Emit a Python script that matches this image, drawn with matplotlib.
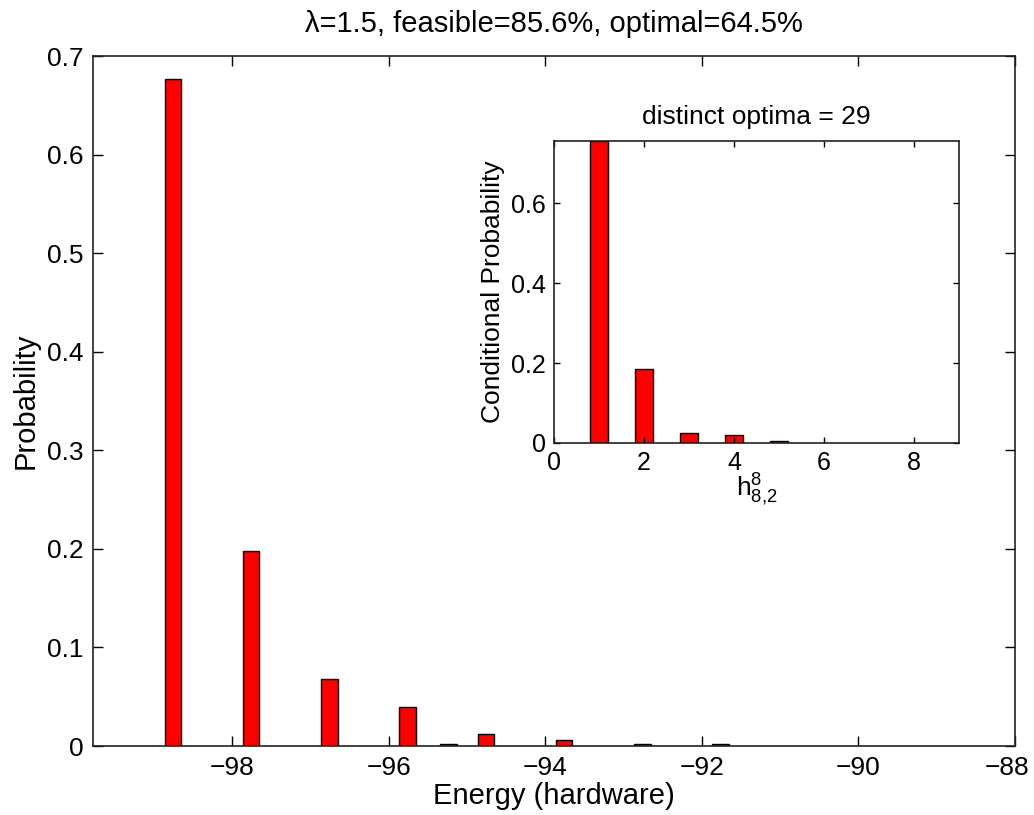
import matplotlib
matplotlib.use("Agg")
import matplotlib.pyplot as plt
from matplotlib.transforms import ScaledTranslation

plt.rcParams['font.family'] = ['Liberation Sans', 'DejaVu Sans']
plt.rcParams['mathtext.fontset'] = 'custom'
plt.rcParams['mathtext.rm'] = 'Liberation Sans'
plt.rcParams['mathtext.it'] = 'Liberation Sans'

# Main histogram data
energy = [-98.76, -97.76, -96.76, -95.76, -95.24, -94.76, -93.76, -92.76, -91.76]
prob = [0.677, 0.198, 0.068, 0.040, 0.002, 0.012, 0.006, 0.002, 0.002]
main_xticks = [-98, -96, -94, -92, -90, -88]
main_yticks = [0, 0.1, 0.2, 0.3, 0.4, 0.5, 0.6, 0.7]
main_yticklabels = ['0', '0.1', '0.2', '0.3', '0.4', '0.5', '0.6', '0.7']

# Inset data
h_vals = [1, 2, 3, 4, 5]
cond_prob = [0.756, 0.186, 0.024, 0.020, 0.004]
inset_xticks = [0, 2, 4, 6, 8]
inset_yticks = [0, 0.2, 0.4, 0.6]
inset_yticklabels = ['0', '0.2', '0.4', '0.6']

title = 'λ=1.5, feasible=85.6%, optimal=64.5%'
inset_title = 'distinct optima = 29'

fig = plt.figure(figsize=(10.34, 8.15), dpi=100)

ax = fig.add_axes([93/1034, 1-746/815, (1015-93)/1034, (746-56)/815])
ax.bar(energy, prob, width=0.21, color='#ff0000', edgecolor='black', linewidth=1.0)
ax.set_xlim(-99.78, -88)
ax.set_ylim(0, 0.7)
ax.set_xticks(main_xticks)
ax.set_xticklabels(['\u2212%d' % abs(t) for t in main_xticks])
ax.set_yticks(main_yticks)
ax.set_yticklabels(main_yticklabels)
ax.tick_params(direction='in', length=7.5, width=1.0, top=True, right=True,
               labelsize=19, pad=7)
# keep the last x tick label inside the figure, as in the reference
last = ax.get_xticklabels()[-1]
last.set_transform(last.get_transform() + ScaledTranslation(-8/100, 0, fig.dpi_scale_trans))
for s in ax.spines.values():
    s.set_linewidth(1.2)
    s.set_color('#222222')
ax.set_xlabel('Energy (hardware)', fontsize=21, labelpad=2)
ax.set_ylabel('Probability', fontsize=21, labelpad=5)
ax.set_title(title, fontsize=21, pad=17)

ins = fig.add_axes([554/1034, 1-443/815, (959-554)/1034, (443-141)/815])
ins.bar(h_vals, cond_prob, width=0.4, color='#ff0000', edgecolor='black', linewidth=1.0)
ins.set_xlim(0, 9)
ins.set_ylim(0, max(cond_prob))
ins.set_xticks(inset_xticks)
ins.set_yticks(inset_yticks)
ins.set_yticklabels(inset_yticklabels)
ins.tick_params(direction='in', length=4.5, width=1.0, top=True, right=True,
                labelsize=18, pad=6)
for s in ins.spines.values():
    s.set_linewidth(1.2)
    s.set_color('#222222')
ins.set_xlabel(r'$\mathregular{h^{8}_{8{,}2}}$', fontsize=19, labelpad=-3)
ins.set_ylabel('Conditional Probability', fontsize=19, labelpad=4)
ins.set_title(inset_title, fontsize=19, pad=12)

fig.savefig('out.png', dpi=100)
